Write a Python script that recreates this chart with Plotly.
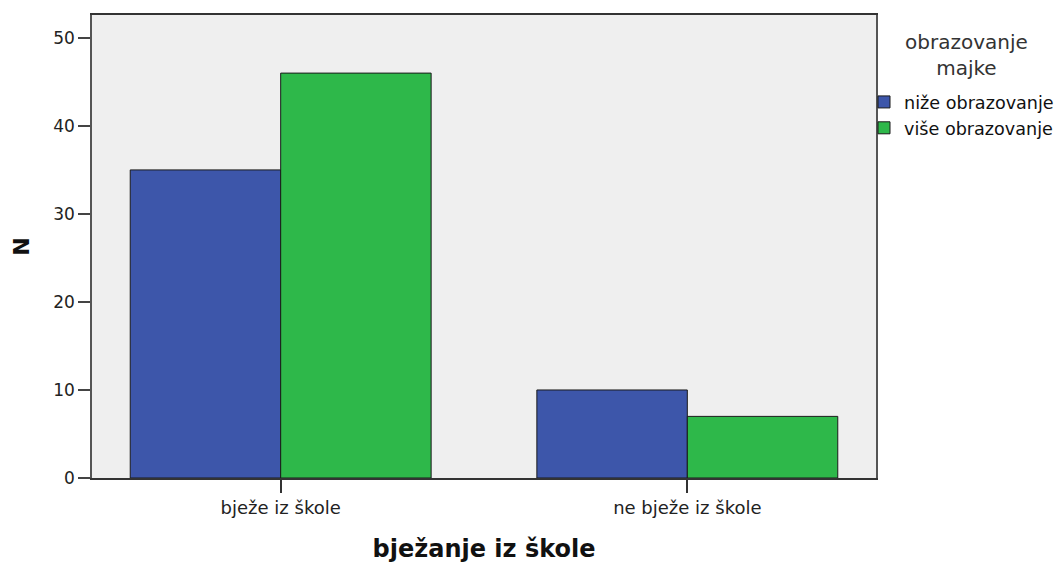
import plotly.graph_objects as go

categories = ["bježe iz škole", "ne bježe iz škole"]
nize = [35, 10]
vise = [46, 7]
series_names = ["niže obrazovanje", "više obrazovanje"]
legend_title = "obrazovanje<br>majke"
y_ticks = [0, 10, 20, 30, 40, 50]

fig = go.Figure()
fig.add_trace(go.Bar(x=categories, y=nize, name=series_names[0],
                     marker=dict(color="#3D56AA", line=dict(color="#1a1a1a", width=1))))
fig.add_trace(go.Bar(x=categories, y=vise, name=series_names[1],
                     marker=dict(color="#2EB84A", line=dict(color="#1a1a1a", width=1))))

fig.update_layout(
    width=1061, height=563,
    margin=dict(l=92, r=185, t=15, b=85, autoexpand=False),
    paper_bgcolor="white",
    plot_bgcolor="#EFEFEF",
    barmode="group",
    bargap=0.26,
    bargroupgap=0,
    showlegend=True,
    legend=dict(
        font=dict(family="DejaVu Sans", size=17.6, color="#111"),
        x=0.9847, xanchor="left", y=0.851, yanchor="top",
        bgcolor="rgba(0,0,0,0)",
        itemwidth=30,
    ),
    annotations=[dict(
        text=legend_title, xref="paper", yref="paper", x=1.116, y=0.9136,
        xanchor="center", yanchor="middle", showarrow=False, align="center",
        font=dict(family="DejaVu Sans", size=20, color="#333"),
    )],
    xaxis=dict(
        range=[-0.464, 1.464],
        showline=True, linecolor="#333", linewidth=1.5, mirror=True,
        ticks="outside", ticklen=13, tickcolor="#333", tickwidth=1.5,
        tickfont=dict(family="DejaVu Sans", size=18, color="#222"),
        title=dict(text="<b>bježanje iz škole</b>",
                   font=dict(family="DejaVu Sans", size=24, color="#111"), standoff=23),
        showgrid=False,
    ),
    yaxis=dict(
        range=[0, 52.6],
        tickvals=y_ticks,
        showline=True, linecolor="#555", linewidth=1.5, mirror=True,
        ticks="outside", ticklen=12, tickcolor="#444", tickwidth=1.5,
        tickfont=dict(family="DejaVu Sans", size=17, color="#222"),
        title=dict(text="<b>N</b>", font=dict(family="DejaVu Sans", size=22, color="#111"), standoff=18),
        showgrid=False, zeroline=False,
    ),
)

fig.write_html(
    "out.html",
    config={"displayModeBar": False},
    post_script="document.body.style.margin='0';document.body.style.overflow='hidden';",
)
